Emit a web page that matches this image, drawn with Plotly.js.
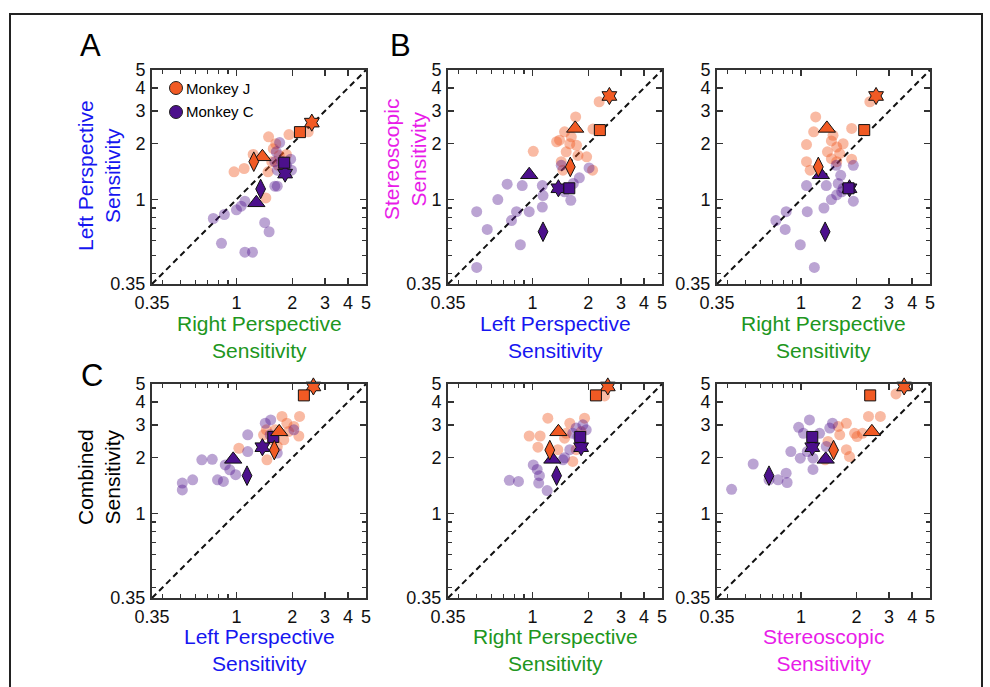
<!DOCTYPE html>
<html>
<head>
<meta charset="utf-8">
<script src="https://cdn.plot.ly/plotly-3.0.1.min.js"></script>
<style>
  html, body { margin: 0; padding: 0; background: #fff; }
  #chart { width: 990px; height: 687px; }
</style>
</head>
<body>
<div id="chart"></div>
<script>
// ---------- tick labels ----------
const tickVals = [0.35, 1, 2, 3, 4, 5];
const tickText = ['0.35', '1', '2', '3', '4', '5'];
const minorTickVals = [0.4, 0.5, 0.6, 0.7, 0.8, 0.9];

// ---------- highlighted example units (star, square, triangle, diamond) ----------
const specialSymbols = ['hexagram', 'square', 'triangle-up', 'diamond-tall'];
const specJ_left     = [2.60, 2.31, 1.70, 1.60];
const specJ_right    = [2.55, 2.20, 1.38, 1.24];
const specJ_stereo   = [3.62, 2.37, 2.42, 1.50];
const specJ_combined = [4.85, 4.34, 2.76, 2.20];
const specC_left     = [1.38, 1.58, 0.96, 1.14];
const specC_right    = [1.83, 1.81, 1.28, 1.35];
const specC_stereo   = [1.15, 1.15, 1.36, 0.67];
const specC_combined = [2.28, 2.59, 1.96, 1.60];

// ---------- Panel A : x = right, y = left ----------
const jA_x = [0.97, 1.10, 1.23, 1.49, 1.63, 1.92, 2.44, 1.48, 1.86, 1.44, 1.68, 1.55, 1.70, 1.79, 1.58];
const jA_y = [1.41, 1.47, 1.75, 2.18, 2.00, 2.24, 2.32, 1.41, 1.75, 1.02, 1.53, 1.60, 1.73, 1.47, 1.88];
const cA_x = [0.75, 0.86, 1.00, 1.06, 1.11, 0.83, 1.11, 1.22, 1.42, 1.50, 1.61, 1.66, 1.71, 1.64, 1.61, 1.98, 1.96, 1.66, 1.75, 1.86];
const cA_y = [0.79, 0.83, 0.88, 0.92, 0.98, 0.58, 0.52, 0.52, 0.75, 0.67, 1.18, 1.18, 2.03, 1.81, 1.60, 1.44, 1.65, 1.44, 1.61, 1.53];

// ---------- Panel B (left) : x = left, y = stereo ----------
const jB1_x = [1.01, 1.71, 2.29, 2.12, 1.40, 1.49, 1.59, 1.73, 1.43, 1.96, 2.11, 1.76, 1.52, 1.46, 1.62, 1.35];
const jB1_y = [1.82, 2.79, 3.37, 2.40, 2.09, 2.32, 2.00, 1.96, 1.60, 1.70, 1.44, 1.73, 1.81, 1.44, 2.18, 2.05];
const cB1_x = [0.50, 0.57, 0.50, 0.65, 0.73, 0.88, 0.77, 0.82, 0.96, 0.86, 1.13, 1.14, 1.13, 1.43, 1.49, 1.61, 1.79, 2.02, 1.66];
const cB1_y = [0.86, 0.69, 0.43, 1.00, 1.21, 1.19, 0.77, 0.86, 0.86, 0.57, 1.19, 1.05, 0.91, 1.53, 1.10, 0.99, 1.31, 1.48, 1.22];

// ---------- Panel B (right) : x = right, y = stereo ----------
const jB2_x = [1.20, 1.07, 1.07, 1.17, 1.49, 1.46, 1.56, 1.69, 1.39, 1.88, 2.36, 1.88, 1.46, 1.62, 1.12, 1.56];
const jB2_y = [2.79, 1.98, 1.60, 2.32, 2.22, 2.07, 1.92, 2.00, 1.81, 2.42, 3.37, 1.65, 1.66, 1.77, 1.44, 1.60];
const cB2_x = [0.73, 0.82, 0.83, 0.99, 1.18, 1.07, 1.08, 1.33, 1.37, 1.46, 1.55, 1.64, 1.56, 1.69, 1.92, 1.92, 1.59, 1.66];
const cB2_y = [0.77, 0.69, 0.86, 0.57, 0.43, 1.19, 0.86, 0.90, 1.19, 1.00, 1.53, 1.35, 1.06, 1.15, 1.53, 0.98, 1.22, 1.10];

// ---------- Panel C (left) : x = left, y = combined ----------
const jC1_x = [1.03, 1.46, 1.76, 2.19, 2.04, 2.17, 1.87, 1.40, 1.56, 1.80, 1.45, 1.62, 1.66, 1.91];
const jC1_y = [2.25, 1.95, 3.34, 3.34, 2.95, 2.62, 3.07, 2.66, 2.50, 2.50, 2.83, 2.83, 2.30, 2.77];
const cC1_x = [0.51, 0.51, 0.58, 0.65, 0.74, 0.79, 0.85, 0.87, 0.92, 0.99, 1.15, 1.15, 1.43, 1.53, 2.04, 1.66, 1.52];
const cC1_y = [1.46, 1.34, 1.52, 1.95, 1.96, 1.52, 1.49, 1.83, 1.72, 1.62, 2.66, 2.16, 3.07, 3.20, 2.83, 2.12, 2.66];

// ---------- Panel C (middle) : x = right, y = combined ----------
const jC2_x = [1.21, 0.96, 1.10, 1.07, 1.59, 1.91, 1.49, 1.72, 1.65, 2.45, 1.37, 1.83, 1.52];
const jC2_y = [3.27, 2.62, 2.62, 2.28, 3.07, 3.27, 2.55, 2.21, 1.91, 4.31, 2.21, 2.77, 2.71];
const cC2_x = [0.75, 0.84, 1.01, 1.06, 1.09, 1.08, 1.20, 1.46, 1.59, 1.65, 1.87, 1.95, 1.76, 1.49, 1.72];
const cC2_y = [1.51, 1.49, 1.83, 1.73, 1.60, 1.46, 1.33, 1.95, 2.21, 2.71, 3.01, 2.83, 2.60, 2.00, 2.89];

// ---------- Panel C (right) : x = stereo, y = combined ----------
const jC3_x = [3.27, 2.32, 2.69, 1.76, 1.59, 1.95, 2.01, 1.62, 1.76, 1.40, 1.35, 2.15, 1.83];
const jC3_y = [4.42, 3.34, 3.34, 3.07, 2.95, 2.71, 2.60, 2.66, 2.21, 2.45, 1.95, 2.71, 2.03];
const cC3_x = [0.42, 0.55, 0.67, 0.75, 0.83, 0.84, 0.88, 0.97, 0.99, 1.03, 1.11, 1.08, 1.16, 1.16, 1.26, 1.43, 1.48, 1.37];
const cC3_y = [1.35, 1.85, 1.52, 1.52, 1.65, 1.47, 2.16, 2.92, 1.99, 2.71, 3.20, 2.16, 1.99, 1.73, 2.71, 2.89, 3.07, 2.30];

// ---------- styles ----------
const ORANGE = 'rgb(241,90,36)';
const PURPLE = 'rgb(76,16,140)';
const BLUE = 'rgb(22,22,240)';
const GREEN = 'rgb(32,150,32)';
const MAGENTA = 'rgb(232,28,232)';
const FONT = 'Liberation Sans, Arial, sans-serif';
const W = 990, H = 687;

// pixel boxes of the six panels [left, right, top, bottom]
const boxes = [
  [152, 366, 70, 284],
  [448, 662, 70, 284],
  [717, 930, 70, 284],
  [152, 366, 384, 598],
  [448, 662, 384, 598],
  [717, 930, 384, 598]
];

const panels = [
  { jx: jA_x,  jy: jA_y,  cx: cA_x,  cy: cA_y,  sjx: specJ_right,  sjy: specJ_left,     scx: specC_right,  scy: specC_left },
  { jx: jB1_x, jy: jB1_y, cx: cB1_x, cy: cB1_y, sjx: specJ_left,   sjy: specJ_stereo,   scx: specC_left,   scy: specC_stereo },
  { jx: jB2_x, jy: jB2_y, cx: cB2_x, cy: cB2_y, sjx: specJ_right,  sjy: specJ_stereo,   scx: specC_right,  scy: specC_stereo },
  { jx: jC1_x, jy: jC1_y, cx: cC1_x, cy: cC1_y, sjx: specJ_left,   sjy: specJ_combined, scx: specC_left,   scy: specC_combined },
  { jx: jC2_x, jy: jC2_y, cx: cC2_x, cy: cC2_y, sjx: specJ_right,  sjy: specJ_combined, scx: specC_right,  scy: specC_combined },
  { jx: jC3_x, jy: jC3_y, cx: cC3_x, cy: cC3_y, sjx: specJ_stereo, sjy: specJ_combined, scx: specC_stereo, scy: specC_combined }
];

const RANGE = [Math.log10(0.35), Math.log10(5)];
const specialSizes = [13, 11, 15, 14];

const traces = [];
const layout = {
  width: W, height: H,
  margin: { l: 0, r: 0, t: 0, b: 0 },
  paper_bgcolor: '#fff', plot_bgcolor: '#fff',
  showlegend: false,
  hovermode: false,
  annotations: [],
  shapes: []
};

function axis(domain, anchor) {
  return {
    type: 'log', range: RANGE, domain: domain, anchor: anchor,
    tickmode: 'array', tickvals: tickVals, ticktext: tickText,
    ticks: 'inside', ticklen: 6, tickwidth: 1.5, tickcolor: '#333',
    showline: true, linewidth: 2, linecolor: '#333', mirror: 'ticks',
    showgrid: false, zeroline: false, fixedrange: true,
    tickfont: { family: FONT, size: 18, color: '#111' },
    ticklabelstandoff: 1,
    minor: { tickmode: 'array', tickvals: minorTickVals, ticks: 'inside', ticklen: 4, tickwidth: 1.2, tickcolor: '#333', showgrid: false }
  };
}

panels.forEach((p, i) => {
  const n = i + 1;
  const xa = 'x' + (n === 1 ? '' : n), ya = 'y' + (n === 1 ? '' : n);
  const b = boxes[i];
  layout['xaxis' + (n === 1 ? '' : n)] = axis([b[0] / W, b[1] / W], ya);
  layout['yaxis' + (n === 1 ? '' : n)] = axis([1 - b[3] / H, 1 - b[2] / H], xa);

  // identity line
  traces.push({ x: tickVals.filter(v => v === 0.35 || v === 5), y: tickVals.filter(v => v === 0.35 || v === 5),
    xaxis: xa, yaxis: ya, type: 'scatter', mode: 'lines', cliponaxis: true,
    line: { color: '#111', width: 2, dash: '6px,4px' } });
  // monkey J circles
  traces.push({ x: p.jx, y: p.jy, xaxis: xa, yaxis: ya, type: 'scatter', mode: 'markers',
    marker: { symbol: 'circle', size: 11, color: ORANGE, opacity: 0.42, line: { width: 0 } } });
  // monkey C circles
  traces.push({ x: p.cx, y: p.cy, xaxis: xa, yaxis: ya, type: 'scatter', mode: 'markers',
    marker: { symbol: 'circle', size: 11, color: PURPLE, opacity: 0.38, line: { width: 0 } } });
  // highlighted units
  traces.push({ x: p.scx, y: p.scy, xaxis: xa, yaxis: ya, type: 'scatter', mode: 'markers', cliponaxis: false,
    marker: { symbol: specialSymbols, size: specialSizes, color: PURPLE, opacity: 1, line: { color: '#111', width: 1 } } });
  traces.push({ x: p.sjx, y: p.sjy, xaxis: xa, yaxis: ya, type: 'scatter', mode: 'markers', cliponaxis: false,
    marker: { symbol: specialSymbols, size: specialSizes, color: ORANGE, opacity: 1, line: { color: '#111', width: 1 } } });
});

// ---------- text ----------
function ann(text, px, py, opts) {
  layout.annotations.push(Object.assign({
    text: text, x: px / W, y: 1 - py / H, xref: 'paper', yref: 'paper',
    xanchor: 'center', yanchor: 'middle', showarrow: false,
    font: { family: FONT, size: 21, color: '#000' }
  }, opts || {}));
}
// panel letters
ann('A', 90, 45, { font: { family: FONT, size: 31, color: '#000' } });
ann('B', 400, 45, { font: { family: FONT, size: 31, color: '#000' } });
ann('C', 92, 375, { font: { family: FONT, size: 31, color: '#000' } });

// y titles
ann('Left Perspective<br>Sensitivity', 99, 176, { textangle: -90, font: { family: FONT, size: 21, color: BLUE } });
ann('Stereoscopic<br>Sensitivity', 405, 160, { textangle: -90, font: { family: FONT, size: 21, color: MAGENTA } });
ann('Combined<br>Sensitivity', 99, 477, { textangle: -90, font: { family: FONT, size: 21, color: '#000' } });

// x titles
ann('Right Perspective<br>Sensitivity', 259, 337, { font: { family: FONT, size: 21, color: GREEN } });
ann('Left Perspective<br>Sensitivity', 555, 337, { font: { family: FONT, size: 21, color: BLUE } });
ann('Right Perspective<br>Sensitivity', 823, 337, { font: { family: FONT, size: 21, color: GREEN } });
ann('Left Perspective<br>Sensitivity', 259, 650, { font: { family: FONT, size: 21, color: BLUE } });
ann('Right Perspective<br>Sensitivity', 555, 650, { font: { family: FONT, size: 21, color: GREEN } });
ann('Stereoscopic<br>Sensitivity', 823, 650, { font: { family: FONT, size: 21, color: MAGENTA } });

// legend (panel A)
const legendItems = [['Monkey J', ORANGE, 88], ['Monkey C', PURPLE, 112]];
legendItems.forEach(([label, col, py]) => {
  layout.shapes.push({ type: 'circle', xref: 'paper', yref: 'paper',
    xsizemode: 'pixel', ysizemode: 'pixel', xanchor: 176 / W, yanchor: 1 - py / H,
    x0: -6.5, x1: 6.5, y0: -6.5, y1: 6.5,
    fillcolor: col, line: { color: '#222', width: 1 } });
  ann(label, 184, py, { xanchor: 'left', font: { family: FONT, size: 15, color: '#000' } });
});

// outer frame
layout.shapes.push({ type: 'rect', xref: 'paper', yref: 'paper',
  x0: 10 / W, x1: 982 / W, y0: 1 - 700 / H, y1: 1 - 14 / H,
  line: { color: '#222', width: 2 }, fillcolor: 'rgba(0,0,0,0)' });

Plotly.newPlot('chart', traces, layout, { staticPlot: true, displayModeBar: false });
</script>
</body>
</html>
